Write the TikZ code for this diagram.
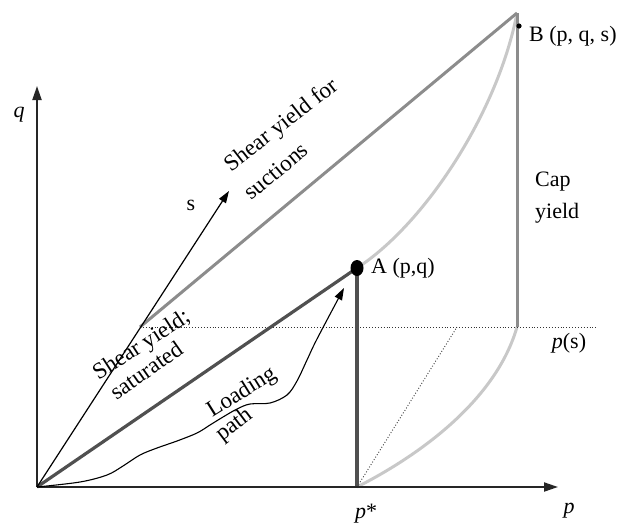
\documentclass[tikz,border=0pt]{standalone}
\usepackage{fontspec}
\setmainfont{Liberation Serif}
\usetikzlibrary{arrows.meta}
\definecolor{darkg}{HTML}{505050}
\definecolor{midg}{HTML}{8C8C8C}
\definecolor{lightg}{HTML}{C8C8C8}
\begin{document}
\begin{tikzpicture}[x=1pt,y=-1pt,
  lbl/.style={font=\fontsize{22}{26}\selectfont, inner sep=0pt},
  rlbl/.style={font=\fontsize{23}{27}\selectfont, inner sep=0pt},
  axis/.style={line width=2pt, draw=black!85, -{Triangle[length=14pt,width=9pt]}},
  thinarrow/.style={line width=1.2pt, draw=black, -{Triangle[length=12pt,width=8pt]}},
  darkline/.style={line width=3.2pt, draw=darkg},
  midline/.style={line width=3pt, draw=midg},
  lightline/.style={line width=3pt, draw=lightg},
  dotline/.style={line width=0.9pt, draw=black!80, dotted}]
\useasboundingbox (0,0) rectangle (624,525);
% coordinates
\coordinate (O) at (37,487);
\coordinate (QT) at (37,86);
\coordinate (PT) at (558,487);
\coordinate (A) at (357,268);
\coordinate (Pst) at (357,487);
\coordinate (B) at (517,13);
\coordinate (Bs) at (517,327);
\coordinate (S0) at (140,327);
\coordinate (DE) at (598,327);
\coordinate (DD) at (457,327);
\coordinate (ST) at (229,191);
\coordinate (LT) at (344,288);
% light gray curves
\draw[lightline] (Pst) .. controls (420,455) and (496,400) .. (Bs);
\draw[lightline] (A) .. controls (425,224) and (498,112) .. (B);
% dotted lines
\draw[dotline] (S0) -- (DE);
\draw[dotline] (Pst) -- (DD);
% shear yield for suctions & cap
\draw[midline] (S0) -- (B);
\draw[midline] (B) -- (Bs);
% saturated shear and p*
\draw[darkline] (O) -- (A);
\draw[darkline] (Pst) -- (A);
% axes
\draw[axis] (O) -- (QT);
\draw[axis] (O) -- (PT);
% s arrow
\draw[thinarrow] (O) -- (ST);
% loading path
\draw[thinarrow, line width=1.1pt] plot[smooth, tension=0.55] coordinates {(O) (80,482) (107,475) (123,466) (140,455) (157,448) (177,441) (197,433) (210,425) (223,417) (237,409) (250,404) (270,403) (287,395) (297,381) (307,360) (317,339) (LT)};
% points
\fill[black] (A) ellipse (6.5pt and 8pt);
\fill[black] (519,26) circle (2.6pt);
% labels
\node[lbl, font=\fontsize{22}{26}\selectfont\itshape] (ql) at (19,115) {q};
\node[lbl, font=\fontsize{22}{26}\selectfont\itshape] (pl) at (569,511) {p};
\node[lbl] (psl) at (366,514) {\textit{p}*};
\node[lbl] (pssl) at (569,343) {\textit{p}(s)};
\node[lbl, anchor=west] (Al) at (371,268) {A (p,q)};
\node[lbl, anchor=west] (Bl) at (529,36) {B (p, q, s)};
\node[lbl, anchor=west] (capl) at (535,182) {Cap};
\node[lbl, anchor=west] (yl) at (535,213) {yield};
\node[lbl] (sl) at (191,205) {s};
\node[rlbl, rotate=38] (sy1) at (282,126) {Shear yield for};
\node[rlbl, rotate=40] (sy2) at (276,171) {suctions};
\node[rlbl, rotate=33] (ss1) at (142,346) {Shear yield;};
\node[rlbl, rotate=35] (ss2) at (146,370) {saturated};
\node[rlbl, rotate=32] (lp1) at (242,393) {Loading};
\node[rlbl, rotate=37] (lp2) at (235,425) {path};
\end{tikzpicture}
\end{document}
